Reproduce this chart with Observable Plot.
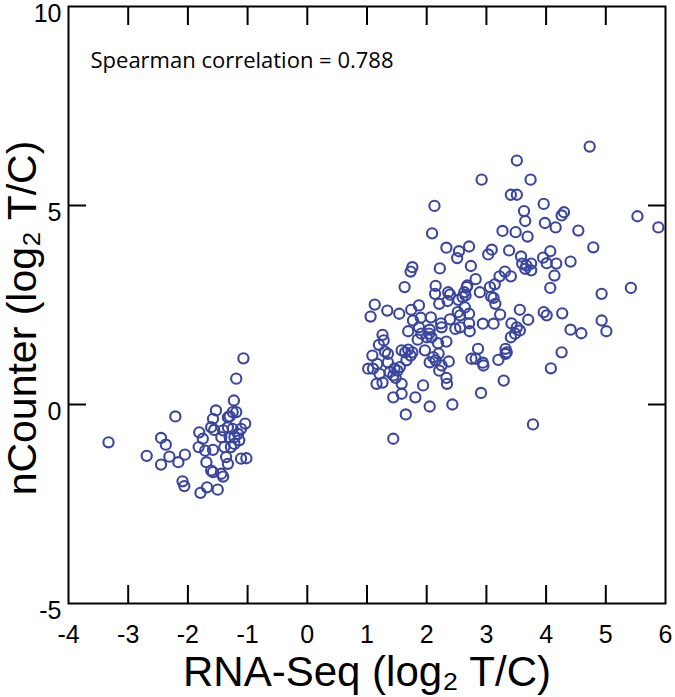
<!DOCTYPE html>
<html>
<head>
<meta charset="utf-8">
<script src="https://cdn.jsdelivr.net/npm/d3@7"></script>
<script src="https://cdn.jsdelivr.net/npm/@observablehq/plot@0.6"></script>
<style>
  html, body { margin: 0; padding: 0; background: #fff; }
</style>
</head>
<body>
<div id="chart"></div>
<script>
// ---- tick values ----
const xTickLabels = [-4, -3, -2, -1, 0, 1, 2, 3, 4, 5, 6];
const yTickLabels = [-5, 0, 5, 10];
const xInnerTicks = [-3, -2, -1, 0, 1, 2, 3, 4, 5];
const yInnerTicks = [0, 5];

// ---- text ----
const xTitle = "RNA-Seq (log\u2082 T/C)";
const yTitle = "nCounter (log\u2082 T/C)";
const annotation = "Spearman correlation = 0.788";

// ---- data: [RNA-Seq log2 T/C, nCounter log2 T/C] ----
const leftCluster = [
  [-1.07,1.16],[-1.19,0.65],[-1.23,0.10],[-1.53,-0.15],[-2.21,-0.30],[-1.58,-0.36],[-1.30,-0.30],[-1.19,-0.19],
  [-3.33,-0.95],[-2.45,-0.84],[-2.37,-1.01],[-2.69,-1.29],[-2.31,-1.31],[-2.05,-1.26],[-2.45,-1.51],[-2.16,-1.45],
  [-2.09,-1.93],[-2.06,-2.05],[-1.79,-2.22],[-1.68,-2.08],[-1.50,-2.14],[-1.81,-0.70],[-1.75,-0.86],[-1.82,-1.07],
  [-1.71,-1.16],[-1.58,-1.14],[-1.61,-0.57],[-1.56,-0.64],[-1.69,-1.45],[-1.61,-1.66],[-1.58,-1.70],[-1.44,-1.74],
  [-1.41,-1.81],[-1.33,-1.49],[-1.36,-1.32],[-1.11,-1.36],[-1.02,-1.35],[-1.04,-0.48],[-1.11,-0.61],[-1.16,-0.74],
  [-1.14,-0.90],[-1.22,-0.99],[-1.28,-1.07],[-1.39,-1.07],[-1.44,-0.82],[-1.41,-0.65],[-1.33,-0.57],[-1.25,-0.61],
  [-1.30,-0.82],[-1.22,-0.82],[-1.33,-0.32],[-1.25,-0.19]
];

const rightCluster = [
  [2.92,5.65],[2.13,4.99],[2.09,4.30],[3.27,4.36],[3.38,3.87],[2.33,3.94],[2.54,3.85],[2.71,3.97],[2.51,3.68],
  [3.03,3.77],[3.09,3.89],[1.76,3.45],[1.73,3.34],[2.22,3.42],[2.74,3.48],[1.63,2.95],[2.15,2.98],[2.14,2.78],
  [2.36,2.82],[2.39,2.76],[2.67,2.95],[2.68,2.99],[2.63,2.82],[2.65,2.74],[2.82,3.15],[2.89,2.82],[3.06,2.95],
  [3.14,3.02],[3.22,3.22],[3.31,3.34],[3.08,2.71],[3.12,2.68],[3.15,2.53],[2.21,2.53],[2.35,2.60],[2.53,2.63],
  [2.60,2.70],[2.64,2.44],[3.23,2.26],[1.13,2.51],[1.06,2.21],[1.34,2.36],[1.54,2.28],[1.74,2.38],[1.87,2.49],
  [1.77,2.11],[1.90,2.18],[2.07,2.19],[2.24,2.04],[2.25,1.94],[2.39,2.14],[2.52,2.32],[2.56,2.24],[2.71,2.28],
  [2.48,1.90],[2.56,1.94],[2.71,2.04],[2.72,1.84],[2.94,2.03],[3.12,2.03],[1.69,1.84],[1.87,1.94],[1.91,1.78],
  [2.05,1.88],[2.04,1.78],[2.00,1.69],[2.08,1.69],[1.85,1.63],[2.19,1.54],[2.33,1.58],[1.97,1.36],[1.26,1.75],
  [1.28,1.61],[1.20,1.50],[1.30,1.33],[1.35,1.27],[1.09,1.23],[1.58,1.36],[1.64,1.31],[1.69,1.38],[1.73,1.23],
  [1.76,1.31],[1.66,1.11],[1.35,1.06],[1.17,1.02],[1.02,0.90],[1.10,0.90],[1.46,0.90],[1.51,0.85],[1.55,0.94],
  [1.38,0.81],[1.21,0.77],[1.16,0.52],[1.26,0.55],[1.44,0.73],[1.48,0.67],[1.58,0.52],[1.44,0.18],[1.58,0.27],
  [1.81,0.18],[1.94,0.48],[2.05,1.06],[2.11,1.19],[2.15,1.11],[2.20,1.28],[2.25,0.98],[2.21,0.85],[2.37,1.08],
  [2.33,0.67],[2.34,0.52],[2.05,-0.05],[2.43,0.00],[1.65,-0.25],[1.44,-0.86],[2.86,1.40],[2.75,1.15],[2.82,1.15],
  [2.94,1.05],[2.95,0.98],[3.20,1.12],[3.32,1.40],[3.34,1.31],[3.29,0.60],[2.91,0.29],[3.78,-0.50],
  [4.73,6.48],[3.51,6.13],[3.74,5.65],[3.41,5.27],[3.51,5.27],[3.96,5.04],[3.63,4.86],[3.65,4.61],[4.26,4.75],
  [4.30,4.83],[5.53,4.73],[5.88,4.45],[3.49,4.33],[3.69,4.22],[3.98,4.56],[4.16,4.45],[4.54,4.37],[4.79,3.95],
  [3.58,3.72],[4.07,3.85],[3.95,3.69],[4.01,3.55],[4.17,3.54],[4.41,3.59],[3.60,3.54],[3.67,3.49],[3.65,3.41],
  [3.75,3.54],[3.75,3.37],[4.14,3.24],[3.41,3.22],[4.07,2.93],[4.93,2.78],[5.42,2.93],[3.56,2.38],[3.70,2.13],
  [3.96,2.32],[4.01,2.24],[4.27,2.29],[4.93,2.11],[5.01,1.84],[4.41,1.88],[4.59,1.79],[3.42,2.04],[3.51,1.94],
  [3.56,1.86],[3.41,1.69],[3.48,1.78],[3.32,1.27],[4.26,1.31],[4.08,0.91]
];

const points = leftCluster.concat(rightCluster).map(([x, y]) => ({x, y}));

const pointColor = "#3a469e";
const labelFont = "'Liberation Sans', Arial, Helvetica, sans-serif";
const plainNumber = d => String(d);

const chart = Plot.plot({
  width: 675,
  height: 697,
  marginLeft: 68,
  marginRight: 10,
  marginTop: 6,
  marginBottom: 94,
  style: {fontFamily: labelFont, fontSize: "25px", color: "#000", background: "#fff", overflow: "visible"},
  x: {domain: [-4, 6], label: null},
  y: {domain: [-5, 10], label: null},
  marks: [
    Plot.dot(points, {x: "x", y: "y", r: 5.1, stroke: pointColor, strokeWidth: 2.1, fill: "none"}),
    Plot.frame({stroke: "#000", strokeWidth: 2}),
    // tick labels
    Plot.axisX({ticks: xTickLabels, anchor: "bottom", tickSize: 0, tickPadding: 22, tickFormat: plainNumber, label: null, fontSize: 25}),
    Plot.axisY({ticks: yTickLabels, anchor: "left", tickSize: 0, tickPadding: 7, dy: 7, tickFormat: plainNumber, label: null, fontSize: 25}),
    // inward tick marks on all four sides
    Plot.axisX({ticks: xInnerTicks, anchor: "bottom", tickSize: -18, strokeWidth: 2, tickFormat: () => "", label: null}),
    Plot.axisX({ticks: xInnerTicks, anchor: "top", tickSize: -18, strokeWidth: 2, tickFormat: () => "", label: null}),
    Plot.axisY({ticks: yInnerTicks, anchor: "left", tickSize: -18, strokeWidth: 2, tickFormat: () => "", label: null}),
    Plot.axisY({ticks: yInnerTicks, anchor: "right", tickSize: -18, strokeWidth: 2, tickFormat: () => "", label: null}),
    // axis titles
    Plot.text([xTitle], {frameAnchor: "bottom", textAnchor: "middle", lineAnchor: "middle", dy: 69, fontSize: 42, fontFamily: labelFont}),
    Plot.text([yTitle], {frameAnchor: "left", textAnchor: "middle", lineAnchor: "middle", rotate: -90, dx: -46, dy: 13, fontSize: 41, fontFamily: labelFont}),
    // annotation
    Plot.text([annotation], {frameAnchor: "top-left", textAnchor: "start", lineAnchor: "middle", dx: 22, dy: 54, fontSize: 22, fontFamily: "'Open Sans', 'Noto Sans', sans-serif"})
  ]
});

document.getElementById("chart").appendChild(chart);
</script>
</body>
</html>
